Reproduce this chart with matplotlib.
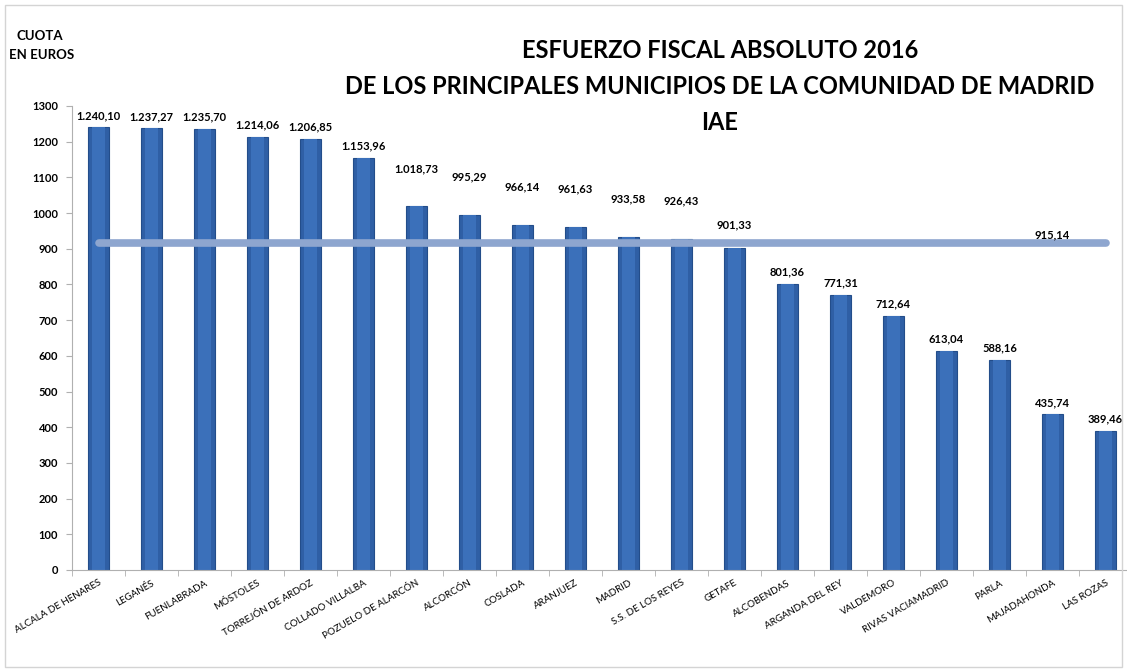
import numpy as np
import matplotlib.pyplot as plt
from matplotlib.patches import Rectangle

municipios = ["ALCALA DE HENARES", "LEGANÉS", "FUENLABRADA", "MÓSTOLES",
              "TORREJÓN DE ARDOZ", "COLLADO VILLALBA", "POZUELO DE ALARCÓN",
              "ALCORCÓN", "COSLADA", "ARANJUEZ", "MADRID", "S.S. DE LOS REYES",
              "GETAFE", "ALCOBENDAS", "ARGANDA DEL REY", "VALDEMORO",
              "RIVAS VACIAMADRID", "PARLA", "MAJADAHONDA", "LAS ROZAS"]
cuota = [1240.10, 1237.27, 1235.70, 1214.06, 1206.85, 1153.96, 1018.73,
         995.29, 966.14, 961.63, 933.58, 926.43, 901.33, 801.36, 771.31,
         712.64, 613.04, 588.16, 435.74, 389.46]
media = 915.14
yticks = list(range(0, 1301, 100))

# label lift above bar top (pixels); raised near the average line as in the original
lift = [12] * len(cuota)
for i in range(6, 12):
    lift[i] = 38
lift[12] = 23


def fmt(v):
    s = f"{v:,.2f}"
    return s.replace(",", "X").replace(".", ",").replace("X", ".")


plt.rcParams['font.family'] = ['Lato', 'DejaVu Sans']

W, H = 1127, 671
fig = plt.figure(figsize=(W / 100, H / 100), dpi=100)
fig.patches.append(Rectangle((5 / W, 4 / H), 1117 / W, 662 / H, transform=fig.transFigure,
                             fill=False, edgecolor='#d4d4d4', linewidth=1))

ax = fig.add_axes([72 / W, (H - 570) / H, (1132 - 72) / W, 464 / H])
px = 1300 / 464
x = np.arange(len(municipios))
ax.bar(x, cuota, width=0.4, color='#2f5fa5', edgecolor='#234d8a', linewidth=0.8, zorder=2)
ax.bar(x, cuota, width=0.24, color='#3b70ba', linewidth=0, zorder=2)
for xi, v, l in zip(x, cuota, lift):
    ax.text(xi, v + l * px, fmt(v), ha='center', va='center', fontsize=8, fontweight='bold', zorder=4)

ax.plot(x, [media] * len(x), color='#8ea6cf', linewidth=5.5, solid_capstyle='round', zorder=3)
ax.text(x[18], media + 9 * px, fmt(media), ha='center', va='center', fontsize=8, fontweight='bold')

ax.set_xlim(-0.5, len(x) - 0.5)
ax.set_ylim(0, 1300)
ax.set_yticks(yticks)
ax.set_yticklabels([str(t) for t in yticks], fontsize=8, fontweight='bold')
ax.set_xticks(x)
ax.set_xticklabels(municipios, rotation=30, ha='right', rotation_mode='anchor', fontsize=7)
ax.set_xticks(np.arange(-0.5, len(x)), minor=True)
ax.tick_params(axis='x', which='major', length=0, pad=6)
ax.tick_params(axis='x', which='minor', length=4, color='#b0b0b0')
ax.tick_params(axis='y', length=4, color='#b0b0b0', pad=6)
for s in ['top', 'right']:
    ax.spines[s].set_visible(False)
ax.spines['left'].set_color('#b0b0b0')
ax.spines['bottom'].set_color('#b0b0b0')

fig.text(40 / W, 1 - 36 / H, "CUOTA", ha='center', va='center', fontsize=9.5, fontweight='bold')
fig.text(42 / W, 1 - 55 / H, "EN EUROS", ha='center', va='center', fontsize=9.5, fontweight='bold')
titles = ["ESFUERZO FISCAL ABSOLUTO 2016",
          "DE LOS PRINCIPALES MUNICIPIOS DE LA COMUNIDAD DE MADRID",
          "IAE"]
for t, yy in zip(titles, [50, 87, 122]):
    fig.text(720 / W, 1 - yy / H, t, ha='center', va='center', fontsize=17, fontweight='bold')

fig.savefig("out.png", dpi=100)
